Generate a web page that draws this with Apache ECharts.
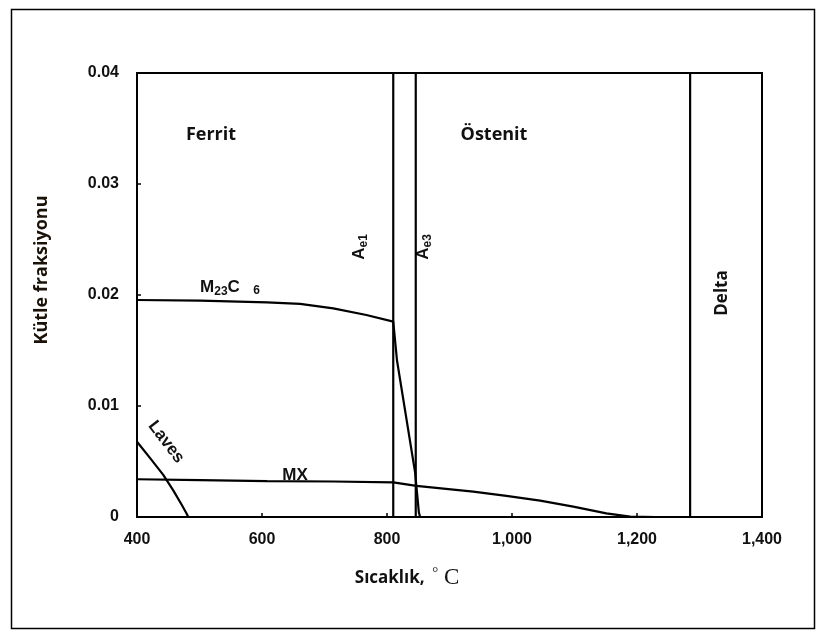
<!DOCTYPE html>
<html>
<head>
<meta charset="utf-8">
<script src="https://cdn.jsdelivr.net/npm/echarts@6/dist/echarts.min.js"></script>
<style>
html,body{margin:0;padding:0;background:#fff;}
#c{width:821px;height:635px;}
</style>
</head>
<body>
<div id="c"></div>
<script>
// Data (temperature °C, mass fraction)
var xTicks = [400, 600, 800, 1000, 1200, 1400];
var yTicks = [0, 0.01, 0.02, 0.03, 0.04];
var m23c6 = [[400,0.01955],[501,0.0195],[608,0.01934],[661,0.0192],[714,0.0188],[767,0.0182],[810,0.0176],[816,0.0141],[845,0.0040],[851,0.0004],[853,0]];
var mx = [[400,0.0034],[501,0.00333],[608,0.00324],[714,0.0032],[810,0.00312],[847,0.0028],[938,0.00228],[991,0.0019],[1045,0.00147],[1098,0.00093],[1151,0.00033],[1189,0.00003],[1230,0]];
var laves = [[400,0.00678],[421,0.0053],[442,0.0038],[458,0.0024],[471.5,0.0011],[479.5,0.0003],[482,0]];
var ae1 = [[810,0],[810,0.04]];
var ae3 = [[846,0],[846,0.04]];
var delta = [[1285,0],[1285,0.04]];

var chart = echarts.init(document.getElementById('c'), null, {renderer:'canvas'});
var lineStyle = {color:'#000', width:2.2};
function mk(name, data){
  return {name:name, type:'line', data:data, showSymbol:false, symbol:'none', smooth:false,
          lineStyle:lineStyle, silent:true, animation:false};
}
var tickFont = {color:'#111', fontFamily:'Liberation Sans', fontWeight:'bold', fontSize:16};
var lbl = {fontFamily:'Liberation Sans', fontWeight:'bold', fill:'#111'};
function sub(fs){ return Object.assign({fontSize:fs, padding:[10,0,0,0]}, lbl); }
chart.setOption({
  animation:false,
  backgroundColor:'#fff',
  grid:{left:137, right:59, top:73, bottom:118, show:true, borderColor:'#000', borderWidth:2, backgroundColor:'transparent'},
  xAxis:{type:'value', min:400, max:1400, interval:200,
    axisLine:{show:true, lineStyle:{color:'#000', width:2}},
    axisTick:{show:true, inside:true, length:4, lineStyle:{color:'#000', width:1.5}},
    splitLine:{show:false},
    axisLabel:Object.assign({margin:15, formatter:function(v){return v>=1000? (Math.floor(v/1000)+','+String(v%1000).padStart(3,'0')) : String(v);}}, tickFont)
  },
  yAxis:{type:'value', min:0, max:0.04, interval:0.01,
    axisLine:{show:true, lineStyle:{color:'#000', width:2}},
    axisTick:{show:true, inside:true, length:4, lineStyle:{color:'#000', width:1.5}},
    splitLine:{show:false},
    axisLabel:Object.assign({margin:18, formatter:function(v){return v===0?'0':v.toFixed(2);}}, tickFont)
  },
  series:[mk('M23C6', m23c6), mk('MX', mx), mk('Laves', laves), mk('Ae1', ae1), mk('Ae3', ae3), mk('Delta', delta)],
  graphic:[
    {type:'rect', left:9, top:7, shape:{width:803, height:619}, style:{fill:'none', stroke:'#000', lineWidth:1.5}, silent:true, z:-1},
    {type:'text', x:42, y:270, rotation:Math.PI/2, style:{text:'Kütle fraksiyonu', fontFamily:'Open Sans', fontWeight:'bold', fontSize:18, fill:'#1a1208', align:'center', verticalAlign:'middle'}},
    {type:'text', x:407, y:578, style:{text:'{a|Sıcaklık,}{b|  °}{c| C}', align:'center', verticalAlign:'middle', rich:{
      a:{fontFamily:'Open Sans', fontWeight:'bold', fontSize:17, fill:'#111'},
      b:{fontFamily:'Liberation Serif', fontSize:15, fill:'#111', padding:[0,0,10,0]},
      c:{fontFamily:'Liberation Serif', fontSize:23, fill:'#111'}
    }}},
    {type:'text', x:211, y:135, style:{text:'Ferrit', fontFamily:'Open Sans', fontWeight:'bold', fontSize:18, fill:'#111', align:'center', verticalAlign:'middle'}},
    {type:'text', x:494, y:135, style:{text:'Östenit', fontFamily:'Open Sans', fontWeight:'bold', fontSize:18, fill:'#111', align:'center', verticalAlign:'middle'}},
    {type:'text', x:722, y:293, rotation:Math.PI/2, style:{text:'Delta', fontFamily:'Open Sans', fontWeight:'bold', fontSize:17, fill:'#111', align:'center', verticalAlign:'middle'}},
    {type:'text', x:230, y:287, style:{text:'{m|M}{s|23}{m|C}{t|    6}', align:'center', verticalAlign:'middle', rich:{
      m:Object.assign({fontSize:17}, lbl),
      s:sub(12),
      t:Object.assign({fontSize:12, padding:[8,0,0,0]}, lbl)
    }}},
    {type:'text', x:295, y:475, style:Object.assign({text:'MX', fontSize:17, align:'center', verticalAlign:'middle'}, lbl)},
    {type:'text', x:166, y:442, rotation:-0.92, style:Object.assign({text:'Laves', fontSize:17, align:'center', verticalAlign:'middle'}, lbl)},
    {type:'text', x:359, y:247, rotation:Math.PI/2, style:{text:'{m|A}{s|e1}', align:'center', verticalAlign:'middle', rich:{
      m:Object.assign({fontSize:17}, lbl),
      s:sub(12)
    }}},
    {type:'text', x:423, y:247, rotation:Math.PI/2, style:{text:'{m|A}{s|e3}', align:'center', verticalAlign:'middle', rich:{
      m:Object.assign({fontSize:17}, lbl),
      s:sub(12)
    }}}
  ]
});
</script>
</body>
</html>
